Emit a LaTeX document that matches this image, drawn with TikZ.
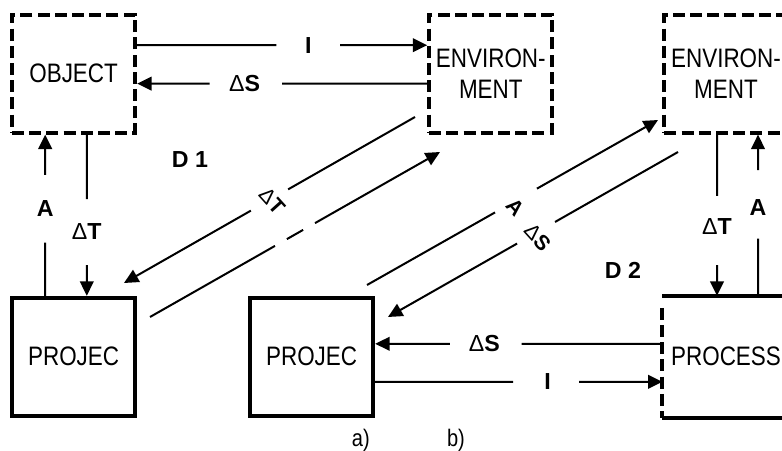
\documentclass[tikz,border=0pt]{standalone}
\usepackage{fontspec}
\setmainfont{Liberation Sans}[FakeStretch=0.84]
\newfontfamily\lblfont{Liberation Sans}
\usetikzlibrary{arrows.meta,calc}

\begin{document}
\begin{tikzpicture}[
  box/.style={draw,line width=0.1cm,minimum width=3.08cm,minimum height=2.95cm,inner sep=0pt,align=center,font=\fontsize{19}{21.5}\selectfont},
  dbox/.style={box,dash pattern=on 0.3cm off 0.13cm},
  ln/.style={line width=0.05cm},
  arr/.style={ln,-{Triangle[length=0.36cm,width=0.34cm]}},
  lbl/.style={inner sep=0pt,font=\lblfont\fontsize{16.5}{18}\selectfont\bfseries},
  rlbl/.style={inner sep=0pt,rotate=-48,font=\lblfont\fontsize{15}{17}\selectfont\bfseries},
  capt/.style={inner sep=0pt,font=\fontsize{17}{19}\selectfont}]
  \useasboundingbox (0,0) rectangle (19.55,11.25);
  % boxes
  \node[dbox] (obj) at (1.84,9.41){OBJECT};
  \node[dbox] (env1) at (12.27,9.41){ENVIRON-\\MENT};
  \node[dbox] (env2) at (18.15,9.41){ENVIRON-\\MENT};
  \node[box] (proj1) at (1.84,2.33){PROJEC};
  \node[box] (proj2) at (7.79,2.33){PROJEC};
  \node[box,draw=none] (proc) at (18.15,2.33){PROCESS};
  \draw[line width=0.1cm] (proc.north west) -- (proc.north east) (proc.south west) -- (proc.south east);
  \draw[line width=0.1cm,dash pattern=on 0.3cm off 0.13cm] ([yshift=-0.3cm]proc.north west) -- (proc.south west);
  % a) vertical links
  \coordinate (a1s) at ([xshift=-0.71cm]proj1.north);
  \coordinate (a1e) at ([xshift=-0.71cm]obj.south);
  \draw[arr] (a1s) -- ($(a1s)!0.33!(a1e)$) ($(a1s)!0.75!(a1e)$) -- (a1e);
  \node[lbl] at ($(a1s)!0.54!(a1e)$){A};
  \coordinate (t1s) at ([xshift=0.33cm]obj.south);
  \coordinate (t1e) at ([xshift=0.33cm]proj1.north);
  \draw[arr] (t1s) -- ($(t1s)!0.40!(t1e)$) ($(t1s)!0.81!(t1e)$) -- (t1e);
  \node[lbl] at ($(t1s)!0.6!(t1e)$){{\mdseries Δ}T};
  % a) horizontal links
  \coordinate (i1s) at ([yshift=0.71cm]obj.east);
  \coordinate (i1e) at ([yshift=0.71cm]env1.west);
  \draw[arr] (i1s) -- ($(i1s)!0.48!(i1e)$) ($(i1s)!0.70!(i1e)$) -- (i1e);
  \node[lbl] at ($(i1s)!0.59!(i1e)$){I};
  \coordinate (s1s) at ([yshift=-0.25cm]env1.west);
  \coordinate (s1e) at ([yshift=-0.25cm]obj.east);
  \draw[arr] (s1s) -- ($(s1s)!0.50!(s1e)$) ($(s1s)!0.75!(s1e)$) -- (s1e);
  \node[lbl] at ($(s1s)!0.63!(s1e)$){{\mdseries Δ}S};
  % diagonals
  \coordinate (d1s) at (10.375,8.325);
  \coordinate (d1e) at (3.1,4.175);
  \draw[arr] (d1s) -- ($(d1s)!0.436!(d1e)$) ($(d1s)!0.564!(d1e)$) -- (d1e);
  \node[rlbl] at (6.8,6.225){{\mdseries Δ}T};
  \coordinate (d2s) at (3.75,3.325);
  \coordinate (d2e) at (11.0,7.45);
  \draw[arr] (d2s) -- ($(d2s)!0.431!(d2e)$) ($(d2s)!0.472!(d2e)$) -- ($(d2s)!0.528!(d2e)$) ($(d2s)!0.569!(d2e)$) -- (d2e);
  \coordinate (d3s) at (9.175,4.125);
  \coordinate (d3e) at (16.45,8.25);
  \draw[arr] (d3s) -- ($(d3s)!0.44!(d3e)$) ($(d3s)!0.584!(d3e)$) -- (d3e);
  \node[rlbl] at (12.88,6.06){A};
  \coordinate (d4s) at (16.95,7.45);
  \coordinate (d4e) at (9.7,3.325);
  \draw[arr] (d4s) -- ($(d4s)!0.424!(d4e)$) ($(d4s)!0.555!(d4e)$) -- (d4e);
  \node[rlbl] at (13.44,5.31){{\mdseries Δ}S};
  % b) vertical links
  \coordinate (t2s) at ([xshift=-0.225cm]env2.south);
  \coordinate (t2e) at ([xshift=-0.225cm]proc.north);
  \draw[arr] (t2s) -- ($(t2s)!0.38!(t2e)$) ($(t2s)!0.81!(t2e)$) -- (t2e);
  \node[lbl] at ($(t2s)!0.57!(t2e)$){{\mdseries Δ}T};
  \coordinate (a2s) at ([xshift=0.8cm]proc.north);
  \coordinate (a2e) at ([xshift=0.8cm]env2.south);
  \draw[arr] (a2s) -- ($(a2s)!0.354!(a2e)$) ($(a2s)!0.78!(a2e)$) -- (a2e);
  \node[lbl] at ($(a2s)!0.55!(a2e)$){A};
  % b) horizontal links
  \coordinate (s2s) at ([yshift=0.325cm]proc.west);
  \coordinate (s2e) at ([yshift=0.325cm]proj2.east);
  \draw[arr] (s2s) -- ($(s2s)!0.49!(s2e)$) ($(s2s)!0.74!(s2e)$) -- (s2e);
  \node[lbl] at ($(s2s)!0.62!(s2e)$){{\mdseries Δ}S};
  \coordinate (i2s) at ([yshift=-0.625cm]proj2.east);
  \coordinate (i2e) at ([yshift=-0.625cm]proc.west);
  \draw[arr] (i2s) -- ($(i2s)!0.48!(i2e)$) ($(i2s)!0.71!(i2e)$) -- (i2e);
  \node[lbl] at ($(i2s)!0.6!(i2e)$){I};
  % captions
  \node[lbl] (dd1) at (4.75,7.25){D 1};
  \node[lbl] (dd2) at (15.575,4.5){D 2};
  \node[capt] (ca) at (9.02,0.23){a)};
  \node[capt] (cb) at (11.4,0.23){b)};
\end{tikzpicture}
\end{document}
